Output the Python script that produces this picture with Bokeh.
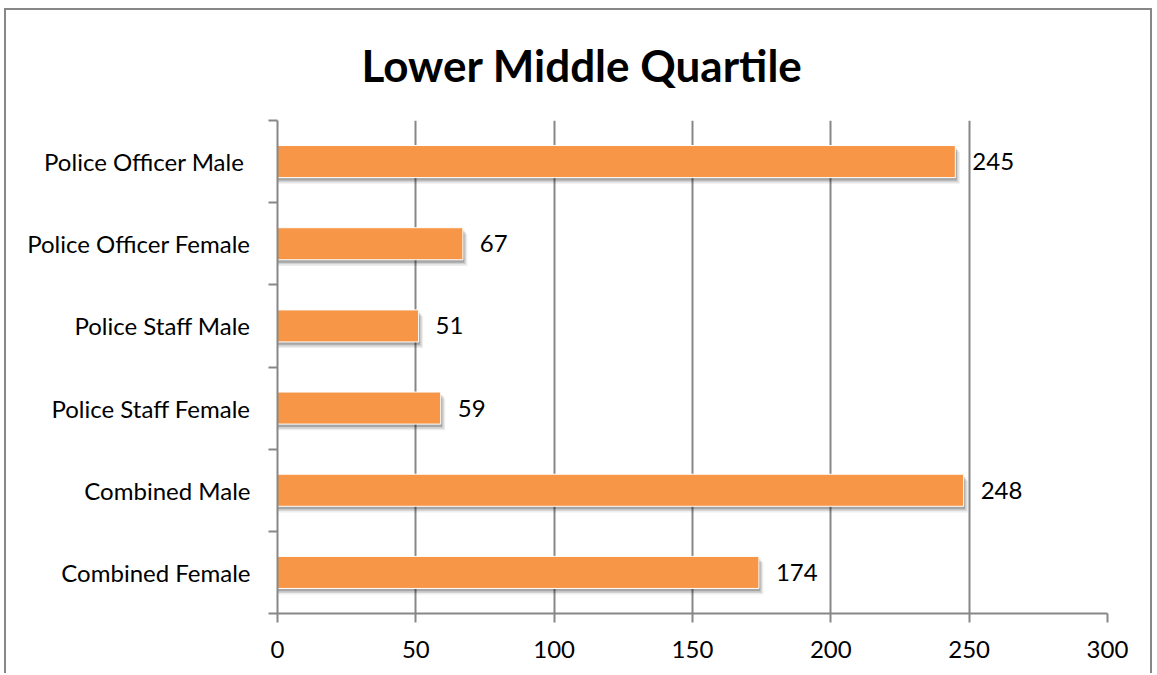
from bokeh.plotting import figure
from bokeh.models import Range1d, FixedTicker, ColumnDataSource, LabelSet
from bokeh.core.properties import value
from bokeh.embed import file_html
from bokeh.resources import INLINE

categories = ["Police Officer Male ", "Police Officer Female", "Police Staff Male",
              "Police Staff Female", "Combined Male", "Combined Female"]
values = [245, 67, 51, 59, 248, 174]
x_ticks = [0, 50, 100, 150, 200, 250, 300]
title_text = "Lower Middle Quartile"

n = len(categories)
ypos = [n - i - 0.5 for i in range(n)]
src = ColumnDataSource(dict(y=ypos, v=values, lbl=[str(v) for v in values]))

FONT = "Lato"
GRID = "#878787"

p = figure(width=1148, height=665, output_backend="svg", toolbar_location=None,
           x_range=Range1d(0, 300), y_range=Range1d(0, n),
           min_border_left=271, min_border_right=47, min_border_top=110, min_border_bottom=62)
p.styles = {"margin-left": "4px", "margin-top": "8px",
            "border-left": "2px solid #878787", "border-top": "2px solid #878787",
            "border-right": "2px solid #878787"}
p.outline_line_color = None
p.background_fill_color = "white"
p.border_fill_color = "white"

p.title.text = title_text
p.title.align = "left"
p.title.vertical_align = "top"
p.title.text_font = FONT
p.title.text_font_size = "44px"
p.title.text_font_style = "bold"
p.title.text_color = "black"
p.title.standoff = 55
p.title.offset = 84

# soft shadows under bars
for dxp, dyp, a in [(1.5, 0.035, 0.20), (3.0, 0.055, 0.12), (4.5, 0.075, 0.07)]:
    sh = ColumnDataSource(dict(y=[yy - dyp for yy in ypos], r=[v + dxp / 2.767 for v in values]))
    p.hbar(y="y", right="r", left=0, height=0.39, source=sh,
           fill_color="black", fill_alpha=a, line_color=None)

p.hbar(y="y", right="v", left=0, height=0.39, source=src,
       fill_color="#F79646", line_color="white", line_width=1)

labels = LabelSet(x="v", y="y", text="lbl", source=src, x_offset=17,
                  text_baseline="middle", text_font=value(FONT), text_font_size="24px",
                  text_color="black")
p.add_layout(labels)

# x axis
xa = p.xaxis[0]
xa.ticker = FixedTicker(ticks=x_ticks, minor_ticks=[])
xa.axis_line_color = GRID
xa.axis_line_width = 2
xa.major_tick_line_color = GRID
xa.major_tick_line_width = 2
xa.major_tick_out = 9
xa.major_tick_in = 0
xa.minor_tick_line_color = None
xa.major_label_text_font = FONT
xa.major_label_text_font_size = "24px"
xa.major_label_text_color = "black"
xa.major_label_standoff = 18

# y axis
ya = p.yaxis[0]
ya.ticker = FixedTicker(ticks=ypos, minor_ticks=list(range(n + 1)))
ya.major_label_overrides = {yy: c for yy, c in zip(ypos, categories)}
ya.axis_line_color = GRID
ya.axis_line_width = 2
ya.major_tick_line_color = None
ya.minor_tick_line_color = GRID
ya.minor_tick_line_width = 2
ya.minor_tick_out = 9
ya.minor_tick_in = 0
ya.major_label_text_font = FONT
ya.major_label_text_font_size = "24px"
ya.major_label_text_color = "black"
ya.major_label_standoff = 18

p.xgrid.ticker = FixedTicker(ticks=x_ticks)
p.xgrid.grid_line_color = GRID
p.xgrid.grid_line_width = 2
p.ygrid.grid_line_color = None

open("out.html", "w").write(file_html(p, INLINE))
